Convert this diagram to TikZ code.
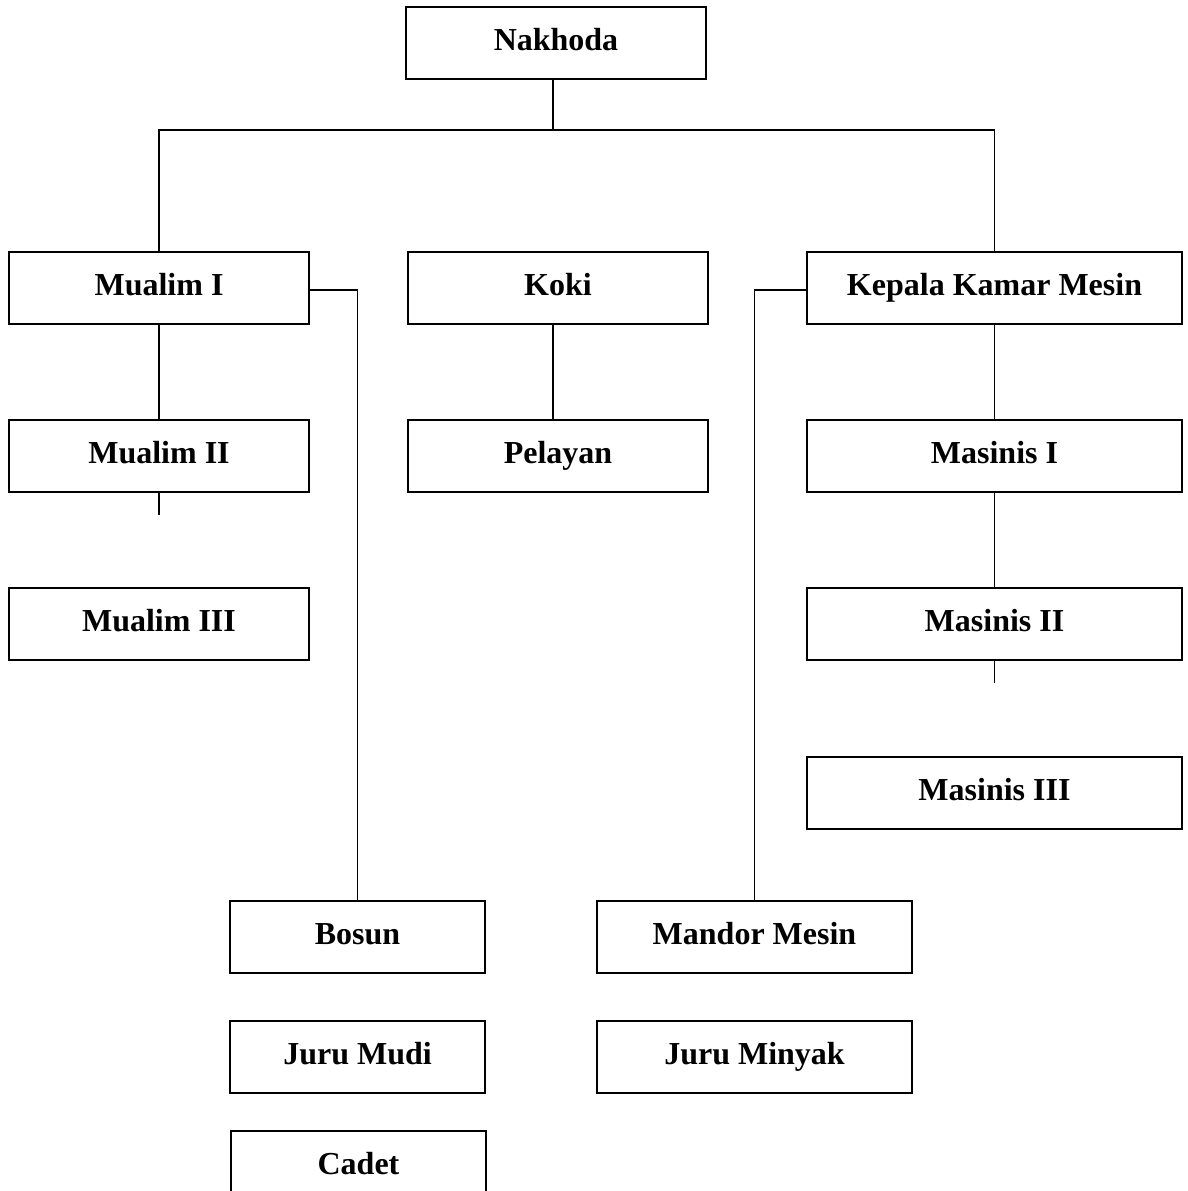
\documentclass[tikz,border=0pt]{standalone}
\usepackage{fontspec}
\setmainfont{Liberation Serif}
\begin{document}
\begin{tikzpicture}[x=1pt,y=-1pt,
  box/.style={draw,line width=1.8pt,inner sep=0pt,minimum height=72pt,
    text height=22pt,text depth=8pt,align=center,
    font=\fontsize{32}{38}\selectfont\bfseries},
  wA/.style={box,minimum width=300pt},
  wB/.style={box,minimum width=375pt},
  wC/.style={box,minimum width=255pt},
  wD/.style={box,minimum width=315pt},
  link/.style={line width=1.8pt}]
\useasboundingbox (0,0) rectangle (1187,1191);
\node[wA] (nak) at (556,43) {Nakhoda};
\node[wA] (m1) at (159,288) {Mualim I};
\node[wA] (koki) at (558,288) {Koki};
\node[wB] (kkm) at (994.5,288) {Kepala Kamar Mesin};
\node[wA] (m2) at (159,456) {Mualim II};
\node[wA] (pel) at (558,456) {Pelayan};
\node[wB] (ms1) at (994.5,456) {Masinis I};
\node[wA] (m3) at (159,624) {Mualim III};
\node[wB] (ms2) at (994.5,624) {Masinis II};
\node[wB] (ms3) at (994.5,793) {Masinis III};
\node[wC] (bosun) at (357.5,937) {Bosun};
\node[wD] (mandor) at (754.5,937) {Mandor Mesin};
\node[wC] (mudi) at (357.5,1057) {Juru Mudi};
\node[wD] (minyak) at (754.5,1057) {Juru Minyak};
\node[wC] (cadet) at (358.5,1167) {Cadet};
% connectors
\draw[link] ([xshift=-3pt]nak.south) -- ++(0,50) coordinate (hub);
\draw[link] (m1.north) |- (hub) -| (kkm.north);
\draw[link] (m1) -- (m2);
\draw[link] (m2.south) -- ++(0,22) coordinate (m2end);
\draw[link] ([xshift=-5pt]koki.south) -- ([xshift=-5pt]pel.north);
\draw[link] (kkm) -- (ms1);
\draw[link] (ms1) -- (ms2);
\draw[link] (ms2.south) -- ++(0,22) coordinate (ms2end);
\draw[link] ([yshift=-2pt]m1.east) -| (bosun.north);
\draw[link] ([yshift=-2pt]kkm.west) -| (mandor.north);
\end{tikzpicture}
\end{document}
